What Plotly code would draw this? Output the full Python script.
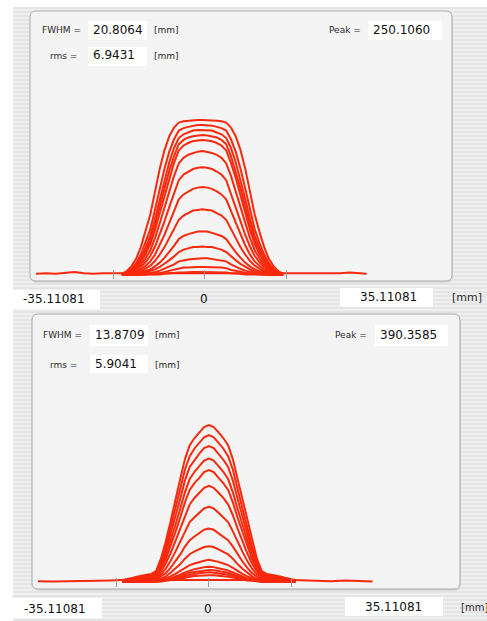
import plotly.graph_objects as go

W, H = 487, 621

# ---------------- data ----------------
X_LIMIT = 35.11081
TICK_VALUES = [-35.11081, -18.7, 0.35, 17.8, 35.11081]
ZERO_LABEL_X = 0.35
RANGE_LABELS = ["-35.11081", "0", "35.11081"]
UNIT = "[mm]"

TOP_FWHM, TOP_RMS, TOP_PEAK = "20.8064", "6.9431", "250.1060"
BOT_FWHM, BOT_RMS, BOT_PEAK = "13.8709", "5.9041", "390.3585"
TOP_PEAK_VALUE = 250.106
BOT_PEAK_VALUE = 390.3585

top_x = [-17, -16, -15, -14, -13, -12, -11, -10, -9, -8, -7, -6, -5, -4, -3, -2, -1, 0,
         1, 2, 3, 4, 5, 6, 7, 8, 9, 10, 11, 12, 13, 14, 15, 16, 17]
top_curves = [
    [2, 6, 14, 26, 45, 70, 98, 135, 172, 202, 224, 238, 246, 248, 249, 250, 250, 250, 250, 250, 249, 248, 246, 238, 224, 202, 172, 135, 98, 70, 45, 26, 14, 6, 2],
    [1, 4, 10, 19, 33, 52, 74, 106, 140, 172, 199, 219, 233, 237, 239, 241, 242, 242, 242, 241, 239, 237, 233, 219, 199, 172, 140, 106, 74, 52, 33, 19, 10, 4, 1],
    [1, 4, 8, 16, 27, 44, 63, 91, 123, 154, 182, 205, 221, 227, 230, 233, 234, 234, 234, 233, 230, 227, 221, 205, 182, 154, 123, 91, 63, 44, 27, 16, 8, 4, 1],
    [1, 3, 7, 14, 24, 38, 56, 81, 111, 140, 168, 192, 211, 218, 222, 224, 225, 226, 225, 224, 222, 218, 211, 192, 168, 140, 111, 81, 56, 38, 24, 14, 7, 3, 1],
    [1, 3, 6, 12, 21, 34, 50, 73, 101, 129, 157, 181, 201, 209, 213, 216, 217, 218, 217, 216, 213, 209, 201, 181, 157, 129, 101, 73, 50, 34, 21, 12, 6, 3, 1],
    [1, 2, 5, 10, 17, 27, 40, 60, 84, 109, 135, 160, 180, 189, 194, 197, 199, 200, 199, 197, 194, 189, 180, 160, 135, 109, 84, 60, 40, 27, 17, 10, 5, 2, 1],
    [1, 2, 4, 7, 13, 21, 31, 46, 65, 87, 110, 132, 153, 162, 167, 171, 173, 174, 173, 171, 167, 162, 153, 132, 110, 87, 65, 46, 31, 21, 13, 7, 4, 2, 1],
    [0, 1, 3, 5, 9, 15, 22, 33, 48, 65, 84, 103, 122, 130, 135, 139, 141, 142, 141, 139, 135, 130, 122, 103, 84, 65, 48, 33, 22, 15, 9, 5, 3, 1, 0],
    [0, 1, 2, 3, 6, 10, 15, 23, 33, 45, 59, 74, 89, 96, 100, 104, 105, 106, 105, 104, 100, 96, 89, 74, 59, 45, 33, 23, 15, 10, 6, 3, 2, 1, 0],
    [0, 0, 1, 2, 4, 6, 9, 14, 20, 28, 37, 47, 58, 63, 66, 68, 70, 70, 70, 68, 66, 63, 58, 47, 37, 28, 20, 14, 9, 6, 4, 2, 1, 0, 0],
    [0, 0, 1, 1, 2, 4, 6, 9, 13, 18, 24, 30, 37, 41, 43, 45, 45, 46, 45, 45, 43, 41, 37, 30, 24, 18, 13, 9, 6, 4, 2, 1, 1, 0, 0],
    [0, 0, 0, 1, 1, 2, 3, 5, 7, 10, 13, 17, 22, 24, 25, 26, 27, 27, 27, 26, 25, 24, 22, 17, 13, 10, 7, 5, 3, 2, 1, 1, 0, 0, 0],
    [0, 0, 0, 0, 1, 1, 2, 2, 3, 5, 7, 8, 11, 12, 12, 13, 13, 13, 13, 13, 12, 12, 11, 8, 7, 5, 3, 2, 2, 1, 1, 0, 0, 0, 0],
    [0, 0, 0, 0, 0, 0, 1, 1, 1, 2, 3, 3, 4, 4, 5, 5, 5, 5, 5, 5, 5, 4, 4, 3, 3, 2, 1, 1, 1, 0, 0, 0, 0, 0, 0],
]
top_base_x = [-35.11, -33, -31, -29, -27, -25, -23, -21, -19, -17, -15, 15, 17, 19, 21, 23, 25, 27, 29, 31, 33, 34.6]
top_base_y = [2, 3, 2, 3, 5, 3, 2, 3, 3, 2, 2, 2, 3, 3, 2, 3, 2, 3, 3, 4, 3, 2]

bot_x = [-17.5, -16.5, -15.5, -14.5, -13.5, -12.5, -11.5, -10.5, -9.5, -8.5, -7.5, -6.5, -5.5,
         -4.5, -3.5, -2.5, -1.5, -0.5, 0.5, 1.5, 2.5, 3.5, 4.5, 5.5, 6.5, 7.5, 8.5, 9.5,
         10.5, 11.5, 12.5, 13.5, 14.5, 15.5, 16.5, 17.5, 18.5]
bot_curves = [
    [5, 7, 10, 13, 16, 18, 20, 27, 58, 100, 150, 205, 255, 305, 340, 358, 372, 385, 390, 385, 372, 358, 340, 305, 255, 205, 150, 100, 58, 27, 20, 18, 16, 13, 10, 7, 5],
    [4, 6, 9, 11, 14, 16, 17, 24, 51, 88, 133, 183, 230, 279, 313, 332, 346, 360, 365, 360, 346, 332, 313, 279, 230, 183, 133, 88, 51, 24, 17, 16, 14, 11, 9, 6, 4],
    [4, 5, 8, 10, 12, 14, 15, 20, 44, 77, 117, 162, 206, 252, 286, 304, 319, 333, 338, 333, 319, 304, 286, 252, 206, 162, 117, 77, 44, 20, 15, 14, 12, 10, 8, 5, 4],
    [3, 5, 6, 8, 10, 11, 13, 17, 37, 66, 101, 141, 181, 223, 256, 274, 288, 302, 307, 302, 288, 274, 256, 223, 181, 141, 101, 66, 37, 17, 13, 11, 10, 8, 6, 5, 3],
    [3, 4, 5, 7, 9, 10, 11, 15, 32, 56, 87, 123, 159, 198, 229, 246, 259, 273, 278, 273, 259, 246, 229, 198, 159, 123, 87, 56, 32, 15, 11, 10, 9, 7, 5, 4, 3],
    [2, 3, 4, 6, 7, 8, 9, 12, 26, 46, 71, 101, 132, 166, 193, 209, 222, 234, 239, 234, 222, 209, 193, 166, 132, 101, 71, 46, 26, 12, 9, 8, 7, 6, 4, 3, 2],
    [2, 2, 3, 4, 5, 6, 6, 9, 19, 33, 52, 75, 99, 126, 149, 161, 172, 183, 187, 183, 172, 161, 149, 126, 99, 75, 52, 33, 19, 9, 6, 6, 5, 4, 3, 2, 2],
    [1, 1, 2, 3, 3, 4, 4, 6, 13, 22, 35, 51, 68, 88, 104, 113, 121, 130, 133, 130, 121, 113, 104, 88, 68, 51, 35, 22, 13, 6, 4, 4, 3, 3, 2, 1, 1],
    [1, 1, 1, 2, 2, 2, 3, 4, 8, 14, 23, 33, 44, 58, 69, 76, 81, 87, 89, 87, 81, 76, 69, 58, 44, 33, 23, 14, 8, 4, 3, 2, 2, 2, 1, 1, 1],
    [0, 1, 1, 1, 1, 1, 2, 2, 5, 9, 14, 20, 27, 35, 42, 46, 50, 53, 55, 53, 50, 46, 42, 35, 27, 20, 14, 9, 5, 2, 2, 1, 1, 1, 1, 1, 0],
    [0, 0, 1, 1, 1, 1, 1, 1, 3, 6, 9, 14, 18, 24, 29, 32, 34, 37, 38, 37, 34, 32, 29, 24, 18, 14, 9, 6, 3, 1, 1, 1, 1, 1, 1, 0, 0],
    [0, 0, 0, 1, 1, 1, 1, 1, 3, 5, 7, 11, 14, 19, 23, 25, 27, 29, 30, 29, 27, 25, 23, 19, 14, 11, 7, 5, 3, 1, 1, 1, 1, 1, 0, 0, 0],
    [0, 0, 0, 0, 1, 1, 1, 1, 2, 4, 6, 8, 11, 15, 18, 20, 22, 23, 24, 23, 22, 20, 18, 15, 11, 8, 6, 4, 2, 1, 1, 1, 1, 0, 0, 0, 0],
    [0, 0, 0, 0, 0, 0, 0, 1, 1, 3, 4, 6, 8, 11, 13, 15, 16, 17, 17, 17, 16, 15, 13, 11, 8, 6, 4, 3, 1, 1, 0, 0, 0, 0, 0, 0, 0],
]
bot_base_x = [-35.11, -32, -29, -26, -23, -20, -18, 18, 20, 23, 26, 29, 32, 34.6]
bot_base_y = [2, 1, 2, 2, 3, 4, 5, 5, 4, 3, 2, 4, 2, 1]

# ---------------- styling helpers ----------------
RED = "#f8290c"
LW = 2.0
FONT = "DejaVu Sans"


def px(x):
    return x / W


def py(y):
    return 1 - y / H


def rrect_path(x0, y0, x1, y1, r):
    return (f"M {px(x0 + r)},{py(y0)} L {px(x1 - r)},{py(y0)} "
            f"Q {px(x1)},{py(y0)} {px(x1)},{py(y0 + r)} L {px(x1)},{py(y1 - r)} "
            f"Q {px(x1)},{py(y1)} {px(x1 - r)},{py(y1)} L {px(x0 + r)},{py(y1)} "
            f"Q {px(x0)},{py(y1)} {px(x0)},{py(y1 - r)} L {px(x0)},{py(y0 + r)} "
            f"Q {px(x0)},{py(y0)} {px(x0 + r)},{py(y0)} Z")


shapes = []
# striped background
shapes.append(dict(type="rect", xref="paper", yref="paper", x0=px(13), x1=px(W), y0=py(H), y1=py(7),
                   fillcolor="#f0f0f0", line=dict(width=0), layer="below"))
stripe = []
yy = 7
while yy < H:
    stripe.append(f"M {px(13)},{py(yy)} L {px(W)},{py(yy)} L {px(W)},{py(yy + 2)} L {px(13)},{py(yy + 2)} Z")
    yy += 4
shapes.append(dict(type="path", xref="paper", yref="paper", path=" ".join(stripe),
                   fillcolor="#e4e4e4", line=dict(width=0), layer="below"))

# panels
for (x0, y0, x1, y1) in [(30, 11, 452, 281), (32, 314, 460, 589)]:
    shapes.append(dict(type="path", xref="paper", yref="paper", path=rrect_path(x0 + 1, y0 + 2, x1 + 1, y1 + 2, 6),
                       fillcolor="#dcdcdc", line=dict(width=0), layer="below"))
    shapes.append(dict(type="path", xref="paper", yref="paper", path=rrect_path(x0, y0, x1, y1, 6),
                       fillcolor="#f4f4f4", line=dict(color="#a9a9a9", width=1), layer="below"))

# white value fields
boxes = [(88, 21, 147, 40), (368, 21, 442, 40), (88, 47, 147, 66),
         (90, 325, 148, 346), (375, 325, 448, 346), (90, 355, 148, 373),
         (13, 290, 100, 309), (340, 288, 433, 307),
         (13, 598, 102, 618), (345, 597, 443, 616)]
for (x0, y0, x1, y1) in boxes:
    shapes.append(dict(type="rect", xref="paper", yref="paper", x0=px(x0), x1=px(x1), y0=py(y1), y1=py(y0),
                       fillcolor="#ffffff", line=dict(width=0), layer="below"))

annotations = []


def label(text, x, y, size, color="#2a2a2a", xanchor="left", xref="paper", xval=None):
    annotations.append(dict(text=text, x=(xval if xval is not None else px(x)), y=py(y),
                            xref=xref, yref="paper", xanchor=xanchor, yanchor="middle",
                            showarrow=False, font=dict(family=FONT, size=size, color=color)))


# top panel texts
label("FWHM =", 40, 30, 9)
label(TOP_FWHM, 91, 30, 12, "#111")
label(UNIT, 152, 30, 9)
label("Peak =", 327, 30, 9)
label(TOP_PEAK, 371, 30, 12, "#111")
label("rms =", 48, 56, 9)
label(TOP_RMS, 91, 55, 12, "#111")
label(UNIT, 152, 56, 9)
# top range row
label(RANGE_LABELS[0], 21, 299, 12, "#111")
label(RANGE_LABELS[1], 0, 299, 12, "#111", xanchor="center", xref="x", xval=ZERO_LABEL_X)
label(RANGE_LABELS[2], 358, 297, 12, "#111")
label(UNIT, 450, 297, 11)

# bottom panel texts
label("FWHM =", 41, 335, 9)
label(BOT_FWHM, 93, 335, 12, "#111")
label(UNIT, 153, 335, 9)
label("Peak =", 333, 335, 9)
label(BOT_PEAK, 378, 335, 12, "#111")
label("rms =", 48, 365, 9)
label(BOT_RMS, 93, 364, 12, "#111")
label(UNIT, 153, 365, 9)
# bottom range row
label(RANGE_LABELS[0], 22, 609, 12, "#111")
label(RANGE_LABELS[1], 0, 609, 12, "#111", xanchor="center", xref="x2", xval=ZERO_LABEL_X)
label(RANGE_LABELS[2], 363, 607, 12, "#111")
label(UNIT, 459, 607, 10)

fig = go.Figure()

fig.add_trace(go.Scatter(x=top_base_x, y=top_base_y, mode="lines", line=dict(color=RED, width=LW),
                         xaxis="x", yaxis="y", hoverinfo="skip", showlegend=False))
for ys in reversed(top_curves):
    fig.add_trace(go.Scatter(x=top_x, y=ys, mode="lines", line=dict(color=RED, width=LW),
                             xaxis="x", yaxis="y", hoverinfo="skip", showlegend=False))

fig.add_trace(go.Scatter(x=bot_base_x, y=bot_base_y, mode="lines", line=dict(color=RED, width=LW),
                         xaxis="x2", yaxis="y2", hoverinfo="skip", showlegend=False))
for ys in reversed(bot_curves):
    fig.add_trace(go.Scatter(x=bot_x, y=ys, mode="lines", line=dict(color=RED, width=LW),
                             xaxis="x2", yaxis="y2", hoverinfo="skip", showlegend=False))

s_top = 155 / TOP_PEAK_VALUE
s_bot = 157 / BOT_PEAK_VALUE

axis_common = dict(range=[-X_LIMIT, X_LIMIT], anchor="free", showgrid=False, zeroline=False,
                   showline=False, ticks="inside", ticklen=9, tickwidth=1, tickcolor="#9a9a9a",
                   tickmode="array", tickvals=TICK_VALUES, showticklabels=False, fixedrange=True)

fig.update_layout(
    width=W, height=H, autosize=False,
    margin=dict(l=0, r=0, t=0, b=0),
    paper_bgcolor="#ffffff", plot_bgcolor="rgba(0,0,0,0)",
    xaxis=dict(domain=[px(36), px(369)], position=py(279), **axis_common),
    yaxis=dict(domain=[py(285), py(95)], range=[-10 / s_top, 180 / s_top], visible=False,
               anchor="x", fixedrange=True),
    xaxis2=dict(domain=[px(38), px(375)], position=py(587), **axis_common),
    yaxis2=dict(domain=[py(592), py(405)], range=[-10 / s_bot, 177 / s_bot], visible=False,
                anchor="x2", fixedrange=True),
    shapes=shapes,
    annotations=annotations,
    showlegend=False,
)

fig.write_html("out.html", config={"displayModeBar": False})
